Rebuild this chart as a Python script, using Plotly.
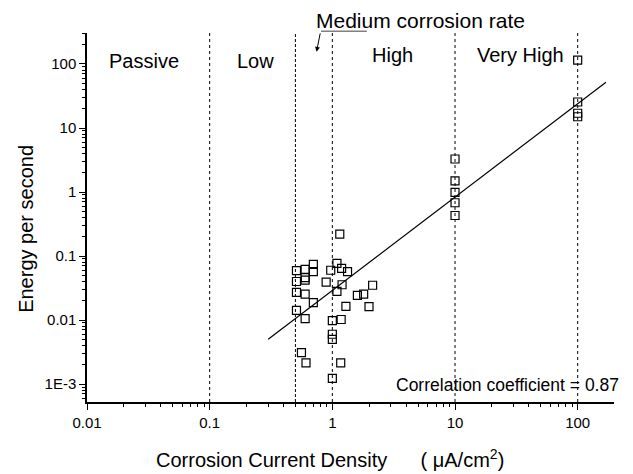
import math
import plotly.graph_objects as go

# Data
current_density = [1.15, 0.70, 0.70, 0.60, 0.51, 0.60, 0.60, 0.51, 0.51, 0.60,
                   0.70, 0.51, 0.60, 0.56, 0.61, 1.00, 1.17, 1.00, 1.00, 1.00,
                   1.18, 1.29, 1.99, 1.60, 1.80, 2.13, 1.09, 1.20, 0.89, 0.97,
                   1.09, 1.19, 1.33,
                   10, 10, 10, 10, 10,
                   100, 100, 100, 100]
energy = [0.22, 0.074, 0.057, 0.062, 0.059, 0.046, 0.042, 0.040, 0.027, 0.0255,
          0.0187, 0.0142, 0.0105, 0.0031, 0.00215, 0.00123, 0.00215, 0.0098, 0.0060, 0.0050,
          0.0102, 0.0164, 0.0162, 0.0243, 0.0255, 0.035, 0.028, 0.0356, 0.039, 0.060,
          0.077, 0.064, 0.057,
          3.28, 1.49, 0.99, 0.68, 0.43,
          115, 25.5, 17, 15]

fit_x = [0.3, 170]
fit_y = [0.005, 52]

boundaries = [0.1, 0.5, 1, 10, 100]
boundary_dash = ["dot", "3px,2px", "dot", "dot", "dot"]

region_labels = ["Passive", "Low", "High", "Very High"]
region_x = [0.0294, 0.237, 3.10, 34.4]
region_y = [111, 111, 138, 138]

x_tickvals = [0.01, 0.1, 1, 10, 100]
x_ticktext = ["0.01", "0.1", "1", "10", "100"]
y_tickvals = [0.001, 0.01, 0.1, 1, 10, 100]
y_ticktext = ["1E-3", "0.01", "0.1", "1", "10", "100"]

x_minor = [m * 10.0 ** e for e in range(-2, 3) for m in range(2, 10)]
y_minor = [m * 10.0 ** e for e in range(-4, 3) for m in range(2, 10)]

FONT = "Liberation Sans, Arial, sans-serif"

fig = go.Figure()

fig.add_trace(go.Scatter(
    x=fit_x, y=fit_y, mode="lines",
    line=dict(color="black", width=1.2), showlegend=False, hoverinfo="skip"))

fig.add_trace(go.Scatter(
    x=current_density, y=energy, mode="markers",
    marker=dict(symbol="square-open", size=8, color="black", line=dict(width=1.2)),
    showlegend=False))

for b, d in zip(boundaries, boundary_dash):
    fig.add_shape(type="line", xref="x", yref="paper", x0=b, x1=b, y0=0, y1=1,
                  line=dict(color="black", width=1, dash=d), layer="below")

for lab, rx, ry in zip(region_labels, region_x, region_y):
    fig.add_annotation(x=math.log10(rx), y=math.log10(ry), xref="x", yref="y", text=lab,
                       showarrow=False, font=dict(family=FONT, size=20, color="black"))

# Medium corrosion rate label + leader
fig.add_annotation(x=0.632, y=1.035, xref="paper", yref="paper",
                   text="Medium corrosion rate", showarrow=False,
                   xanchor="center", yanchor="middle",
                   font=dict(family=FONT, size=21, color="black"))
fig.add_shape(type="line", xref="paper", yref="paper",
              x0=0.444, x1=0.531, y0=1.005, y1=1.005,
              line=dict(color="gray", width=1.5))
fig.add_annotation(x=0.4355, y=0.949, xref="paper", yref="paper",
                   ax=4, ay=-20, axref="pixel", ayref="pixel", text="", showarrow=True,
                   arrowhead=2, arrowsize=1, arrowwidth=1, arrowcolor="black")

fig.add_annotation(x=1.0, y=0.0, xref="paper", yref="paper",
                   text="Correlation coefficient = 0.87", showarrow=False,
                   xanchor="right", yanchor="bottom", yshift=5, xshift=7,
                   font=dict(family=FONT, size=17.5, color="black"))

# Axis titles as annotations (positioned like the reference)
fig.add_annotation(x=0.461, y=-0.154, xref="paper", yref="paper",
                   text="Corrosion Current Density &nbsp;&nbsp;&nbsp;&nbsp;&nbsp;( μA/cm<sup>2</sup>)",
                   showarrow=False, xanchor="center", yanchor="middle",
                   font=dict(family=FONT, size=20, color="black"))
fig.add_annotation(x=-0.116, y=0.2358, xref="paper", yref="paper",
                   text="Energy per second", textangle=-90,
                   showarrow=False, xanchor="center", yanchor="bottom",
                   font=dict(family=FONT, size=20, color="black"))

fig.update_xaxes(type="log", range=[-2, 2.296],
                 tickvals=x_tickvals, ticktext=x_ticktext,
                 ticks="outside", ticklen=6, tickwidth=1, tickcolor="black",
                 minor=dict(tickmode="array", tickvals=x_minor, ticks="outside",
                            ticklen=3, tickwidth=1, tickcolor="black", showgrid=False),
                 showline=True, linecolor="black", linewidth=1.5,
                 showgrid=False, zeroline=False, automargin=False,
                 tickfont=dict(family=FONT, size=15, color="black"))
fig.update_yaxes(type="log", range=[-3.28, 2.484],
                 tickvals=y_tickvals, ticktext=y_ticktext,
                 ticks="outside", ticklen=6, tickwidth=1, tickcolor="black",
                 minor=dict(tickmode="array", tickvals=y_minor, ticks="outside",
                            ticklen=3, tickwidth=1, tickcolor="black", showgrid=False),
                 showline=True, linecolor="black", linewidth=1.5,
                 showgrid=False, zeroline=False, automargin=False,
                 tickfont=dict(family=FONT, size=15, color="black"))

fig.update_layout(width=633, height=474,
                  margin=dict(l=79, r=27, t=25, b=80, autoexpand=False),
                  plot_bgcolor="white", paper_bgcolor="white")

fig.write_html("out.html")
